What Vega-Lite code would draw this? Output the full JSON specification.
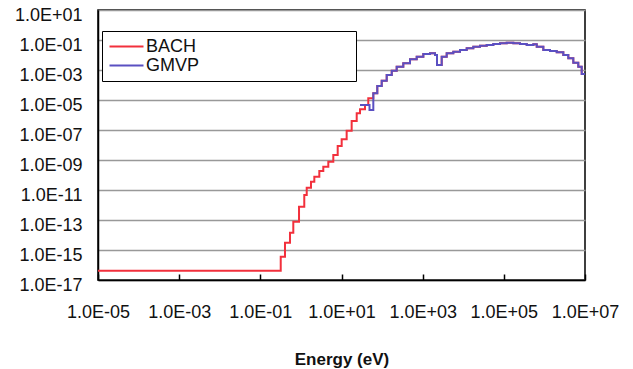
{
  "$schema": "https://vega.github.io/schema/vega-lite/v6.json",
  "width": 487,
  "height": 270,
  "autosize": {"type": "none"},
  "padding": {"left": 98, "top": 10, "right": 48, "bottom": 89},
  "background": "white",
  "config": {
    "view": {"stroke": "#000", "strokeWidth": 1.5},
    "font": "Liberation Sans"
  },
  "data": {
    "values": [
      {"series": "BACH", "energy": 1e-5, "value": 4.2e-17},
      {"series": "BACH", "energy": 0.318, "value": 3.6e-16},
      {"series": "BACH", "energy": 0.405, "value": 3.07e-15},
      {"series": "BACH", "energy": 0.538, "value": 1.42e-14},
      {"series": "BACH", "energy": 0.649, "value": 7.7e-14},
      {"series": "BACH", "energy": 0.898, "value": 7.7e-13},
      {"series": "BACH", "energy": 1.21, "value": 4.64e-12},
      {"series": "BACH", "energy": 1.39, "value": 1.42e-11},
      {"series": "BACH", "energy": 1.77, "value": 3.57e-11},
      {"series": "BACH", "energy": 2.14, "value": 7.7e-11},
      {"series": "BACH", "energy": 2.84, "value": 1.85e-10},
      {"series": "BACH", "energy": 3.56, "value": 3.57e-10},
      {"series": "BACH", "energy": 4.73, "value": 7.7e-10},
      {"series": "BACH", "energy": 6.28, "value": 2.15e-9},
      {"series": "BACH", "energy": 8.06, "value": 8.57e-9},
      {"series": "BACH", "energy": 10.1, "value": 2.4e-8},
      {"series": "BACH", "energy": 13.4, "value": 8.98e-8},
      {"series": "BACH", "energy": 17.8, "value": 3.98e-7},
      {"series": "BACH", "energy": 23.7, "value": 1.3e-6},
      {"series": "BACH", "energy": 28.6, "value": 2.4e-6},
      {"series": "BACH", "energy": 37.9, "value": 4.64e-6},
      {"series": "BACH", "energy": 45.7, "value": 1.3e-5},
      {"series": "BACH", "energy": 60.8, "value": 2.8e-5},
      {"series": "BACH", "energy": 76.2, "value": 8.57e-5},
      {"series": "BACH", "energy": 97.9, "value": 1.94e-4},
      {"series": "BACH", "energy": 130, "value": 4.64e-4},
      {"series": "BACH", "energy": 173, "value": 8.98e-4},
      {"series": "BACH", "energy": 229, "value": 1.66e-3},
      {"series": "BACH", "energy": 333, "value": 2.8e-3},
      {"series": "BACH", "energy": 488, "value": 5.17e-3},
      {"series": "BACH", "energy": 713, "value": 7.7e-3},
      {"series": "BACH", "energy": 1038, "value": 1.17e-2},
      {"series": "BACH", "energy": 1517, "value": 1.3e-2},
      {"series": "BACH", "energy": 2014, "value": 1.0e-2},
      {"series": "BACH", "energy": 2254, "value": 2.15e-3},
      {"series": "BACH", "energy": 2944, "value": 7.7e-3},
      {"series": "BACH", "energy": 3908, "value": 1.3e-2},
      {"series": "BACH", "energy": 5690, "value": 1.66e-2},
      {"series": "BACH", "energy": 8318, "value": 2.15e-2},
      {"series": "BACH", "energy": 12160, "value": 2.8e-2},
      {"series": "BACH", "energy": 17700, "value": 3.57e-2},
      {"series": "BACH", "energy": 25880, "value": 4.17e-2},
      {"series": "BACH", "energy": 37840, "value": 4.64e-2},
      {"series": "BACH", "energy": 55080, "value": 5.41e-2},
      {"series": "BACH", "energy": 80540, "value": 6.03e-2},
      {"series": "BACH", "energy": 117800, "value": 6.6e-2},
      {"series": "BACH", "energy": 171400, "value": 6.03e-2},
      {"series": "BACH", "energy": 250600, "value": 5.41e-2},
      {"series": "BACH", "energy": 366400, "value": 4.64e-2},
      {"series": "BACH", "energy": 533300, "value": 5.17e-2},
      {"series": "BACH", "energy": 647100, "value": 3.57e-2},
      {"series": "BACH", "energy": 940200, "value": 2.15e-2},
      {"series": "BACH", "energy": 1374000, "value": 1.85e-2},
      {"series": "BACH", "energy": 2009000, "value": 1.51e-2},
      {"series": "BACH", "energy": 2924000, "value": 1.0e-2},
      {"series": "BACH", "energy": 3882000, "value": 6.03e-3},
      {"series": "BACH", "energy": 5152000, "value": 3.07e-3},
      {"series": "BACH", "energy": 6839000, "value": 1.66e-3},
      {"series": "BACH", "energy": 8295000, "value": 5.41e-4},
      {"series": "BACH", "energy": 1e7, "value": 5.41e-4},
      {"series": "GMVP", "energy": 28.6, "value": 4.64e-6},
      {"series": "GMVP", "energy": 49, "value": 2.15e-6},
      {"series": "GMVP", "energy": 60.8, "value": 2.8e-5},
      {"series": "GMVP", "energy": 76.2, "value": 8.57e-5},
      {"series": "GMVP", "energy": 97.9, "value": 1.94e-4},
      {"series": "GMVP", "energy": 130, "value": 4.64e-4},
      {"series": "GMVP", "energy": 173, "value": 8.98e-4},
      {"series": "GMVP", "energy": 229, "value": 1.66e-3},
      {"series": "GMVP", "energy": 333, "value": 2.8e-3},
      {"series": "GMVP", "energy": 488, "value": 5.17e-3},
      {"series": "GMVP", "energy": 713, "value": 7.7e-3},
      {"series": "GMVP", "energy": 1038, "value": 1.17e-2},
      {"series": "GMVP", "energy": 1517, "value": 1.3e-2},
      {"series": "GMVP", "energy": 2014, "value": 1.0e-2},
      {"series": "GMVP", "energy": 2254, "value": 2.15e-3},
      {"series": "GMVP", "energy": 2944, "value": 7.7e-3},
      {"series": "GMVP", "energy": 3908, "value": 1.3e-2},
      {"series": "GMVP", "energy": 5690, "value": 1.66e-2},
      {"series": "GMVP", "energy": 8318, "value": 2.15e-2},
      {"series": "GMVP", "energy": 12160, "value": 2.8e-2},
      {"series": "GMVP", "energy": 17700, "value": 3.57e-2},
      {"series": "GMVP", "energy": 25880, "value": 4.17e-2},
      {"series": "GMVP", "energy": 37840, "value": 4.64e-2},
      {"series": "GMVP", "energy": 55080, "value": 5.41e-2},
      {"series": "GMVP", "energy": 80540, "value": 6.03e-2},
      {"series": "GMVP", "energy": 117800, "value": 6.6e-2},
      {"series": "GMVP", "energy": 171400, "value": 6.03e-2},
      {"series": "GMVP", "energy": 250600, "value": 5.41e-2},
      {"series": "GMVP", "energy": 366400, "value": 4.64e-2},
      {"series": "GMVP", "energy": 533300, "value": 5.17e-2},
      {"series": "GMVP", "energy": 647100, "value": 3.57e-2},
      {"series": "GMVP", "energy": 940200, "value": 2.15e-2},
      {"series": "GMVP", "energy": 1374000, "value": 1.85e-2},
      {"series": "GMVP", "energy": 2009000, "value": 1.51e-2},
      {"series": "GMVP", "energy": 2924000, "value": 1.0e-2},
      {"series": "GMVP", "energy": 3882000, "value": 6.03e-3},
      {"series": "GMVP", "energy": 5152000, "value": 3.07e-3},
      {"series": "GMVP", "energy": 6839000, "value": 1.66e-3},
      {"series": "GMVP", "energy": 8295000, "value": 5.41e-4},
      {"series": "GMVP", "energy": 1e7, "value": 5.41e-4}
    ]
  },
  "mark": {"type": "line", "interpolate": "step-after", "strokeWidth": 2},
  "encoding": {
    "x": {
      "field": "energy",
      "type": "quantitative",
      "scale": {"type": "log", "domain": [1e-5, 1e7], "nice": false},
      "axis": {
        "values": [1e-5, 1e-3, 1e-1, 10, 1000, 100000, 10000000],
        "labelExpr": "'1.0E' + (round(log(datum.value)/LN10) < 0 ? '-' : '+') + (abs(round(log(datum.value)/LN10)) < 10 ? '0' : '') + abs(round(log(datum.value)/LN10))",
        "grid": false,
        "domainColor": "#000",
        "domainWidth": 1.5,
        "tickColor": "#000",
        "tickWidth": 1.5,
        "tickSize": -6,
        "labelPadding": 29,
        "labelFontSize": 18,
        "labelColor": "#111",
        "labelFlush": false,
        "labelOverlap": false,
        "title": "Energy (eV)",
        "titleFontSize": 17,
        "titleFontWeight": "bold",
        "titleColor": "#111",
        "titlePadding": 30
      }
    },
    "y": {
      "field": "value",
      "type": "quantitative",
      "scale": {"type": "log", "domain": [1e-17, 10], "nice": false},
      "axis": {
        "values": [10, 0.1, 1e-3, 1e-5, 1e-7, 1e-9, 1e-11, 1e-13, 1e-15, 1e-17],
        "labelExpr": "'1.0E' + (round(log(datum.value)/LN10) < 0 ? '-' : '+') + (abs(round(log(datum.value)/LN10)) < 10 ? '0' : '') + abs(round(log(datum.value)/LN10))",
        "grid": true,
        "gridColor": "#999",
        "gridWidth": 1.5,
        "domainColor": "#000",
        "domainWidth": 1.5,
        "ticks": false,
        "labelPadding": 16,
        "labelOffset": 5,
        "labelFontSize": 18,
        "labelColor": "#111",
        "labelFlush": false,
        "labelOverlap": false,
        "title": null
      }
    },
    "color": {
      "field": "series",
      "type": "nominal",
      "scale": {"domain": ["BACH", "GMVP"], "range": ["#f2303c", "#5a50c2"]},
      "legend": {
        "title": null,
        "orient": "none",
        "legendX": 4,
        "legendY": 21,
        "symbolType": "M-2,0H2",
        "symbolSize": 289,
        "symbolOffset": 9,
        "symbolStrokeWidth": 2,
        "labelFontSize": 18,
        "labelColor": "#111",
        "labelOffset": 10,
        "labelLimit": 400,
        "labelExpr": "datum.label + '                              \u200b'",
        "strokeColor": "#000",
        "fillColor": "white",
        "padding": 6,
        "rowPadding": 0
      }
    }
  }
}
